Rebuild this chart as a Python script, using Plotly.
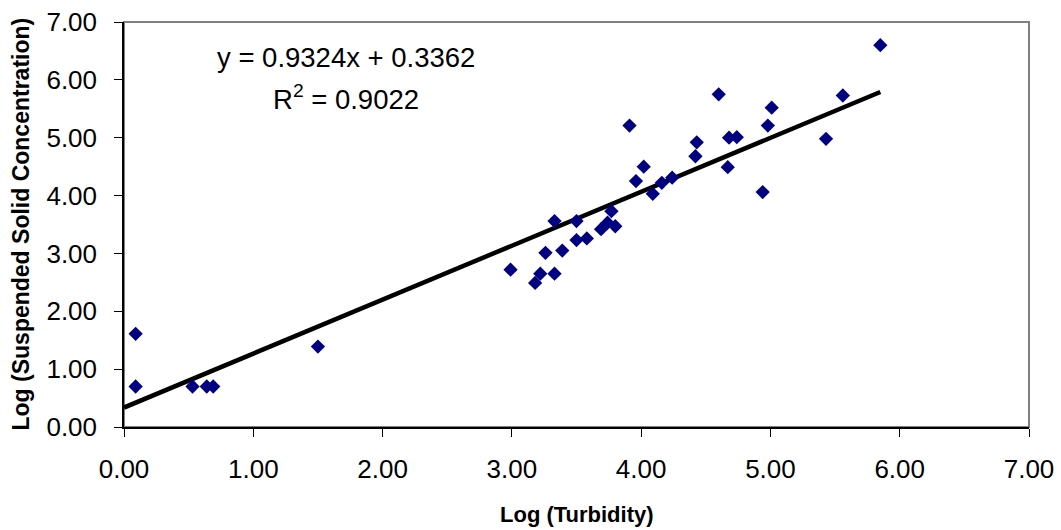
import plotly.graph_objects as go

# Data
log_turbidity = [0.09, 0.09, 0.53, 0.64, 0.69, 1.50,
                 2.99, 3.18, 3.22, 3.33, 3.26, 3.39, 3.33, 3.50, 3.50, 3.58,
                 3.69, 3.74, 3.77, 3.80, 3.91, 3.96, 4.02, 4.09, 4.16, 4.24,
                 4.42, 4.43, 4.60, 4.67, 4.68, 4.74, 4.94, 4.98, 5.01, 5.43,
                 5.56, 5.85]
log_ssc = [1.61, 0.70, 0.70, 0.70, 0.70, 1.39,
           2.72, 2.49, 2.65, 2.65, 3.01, 3.05, 3.56, 3.56, 3.23, 3.26,
           3.42, 3.53, 3.73, 3.47, 5.21, 4.25, 4.50, 4.03, 4.22, 4.31,
           4.68, 4.92, 5.75, 4.49, 5.00, 5.01, 4.06, 5.21, 5.52, 4.98,
           5.73, 6.60]

slope = 0.9324
intercept = 0.3362
r_squared = 0.9022

tick_vals = [0, 1, 2, 3, 4, 5, 6, 7]
tick_text = ["0.00", "1.00", "2.00", "3.00", "4.00", "5.00", "6.00", "7.00"]

x_title = "Log (Turbidity)"
y_title = "Log (Suspended Solid Concentration)"

FONT = "Liberation Sans, Arial, sans-serif"

trend_x = [0, max(log_turbidity)]
trend_y = [slope * v + intercept for v in trend_x]

fig = go.Figure()
fig.add_trace(go.Scatter(
    x=trend_x, y=trend_y, mode="lines",
    line=dict(color="black", width=4.5), showlegend=False, hoverinfo="skip"))
fig.add_trace(go.Scatter(
    x=log_turbidity, y=log_ssc, mode="markers",
    marker=dict(symbol="diamond", size=11, color="#000080", line=dict(width=0)),
    showlegend=False))

axis_common = dict(
    tickmode="array", tickvals=tick_vals, ticktext=tick_text,
    range=[0, 7], showgrid=False, zeroline=False, automargin=False,
    showline=True, linecolor="black", linewidth=1.5,
    ticks="outside", ticklen=8, tickcolor="black", tickwidth=1,
    tickfont=dict(family=FONT, size=26, color="black"),
)

fig.update_layout(
    width=1061, height=530, autosize=False,
    margin=dict(l=124, r=32, t=22, b=103, autoexpand=False),
    paper_bgcolor="white", plot_bgcolor="white",
    xaxis=dict(**axis_common, ticklabelstandoff=10),
    yaxis=dict(**axis_common, ticklabelstandoff=12),
    shapes=[dict(type="rect", xref="paper", yref="paper", x0=0, x1=1, y0=0, y1=1,
                 line=dict(color="#808080", width=2), layer="below")],
    annotations=[
        dict(text=f"y = {slope:.4f}x + {intercept:.4f}", xref="paper", yref="paper",
             x=0.2448, y=0.9135, xanchor="center", yanchor="middle", showarrow=False,
             font=dict(family=FONT, size=27.5, color="black")),
        dict(text=f"R<sup>2</sup> = {r_squared:.4f}", xref="paper", yref="paper",
             x=0.2448, y=0.8147, xanchor="center", yanchor="middle", showarrow=False,
             font=dict(family=FONT, size=27.5, color="black")),
        dict(text=f"<b>{x_title}</b>", xref="paper", yref="paper",
             x=0.5, y=0, yshift=-87, xanchor="center", yanchor="middle", showarrow=False,
             font=dict(family=FONT, size=22, color="black")),
        dict(text=f"<b>{y_title}</b>", xref="paper", yref="paper", textangle=-90,
             x=0, y=0.5, xshift=-104, xanchor="center", yanchor="middle", showarrow=False,
             font=dict(family=FONT, size=23, color="black")),
    ],
)

fig.write_html(
    "out.html",
    config={"displayModeBar": False},
    post_script="document.body.style.margin='0';document.body.style.overflow='hidden';",
)
